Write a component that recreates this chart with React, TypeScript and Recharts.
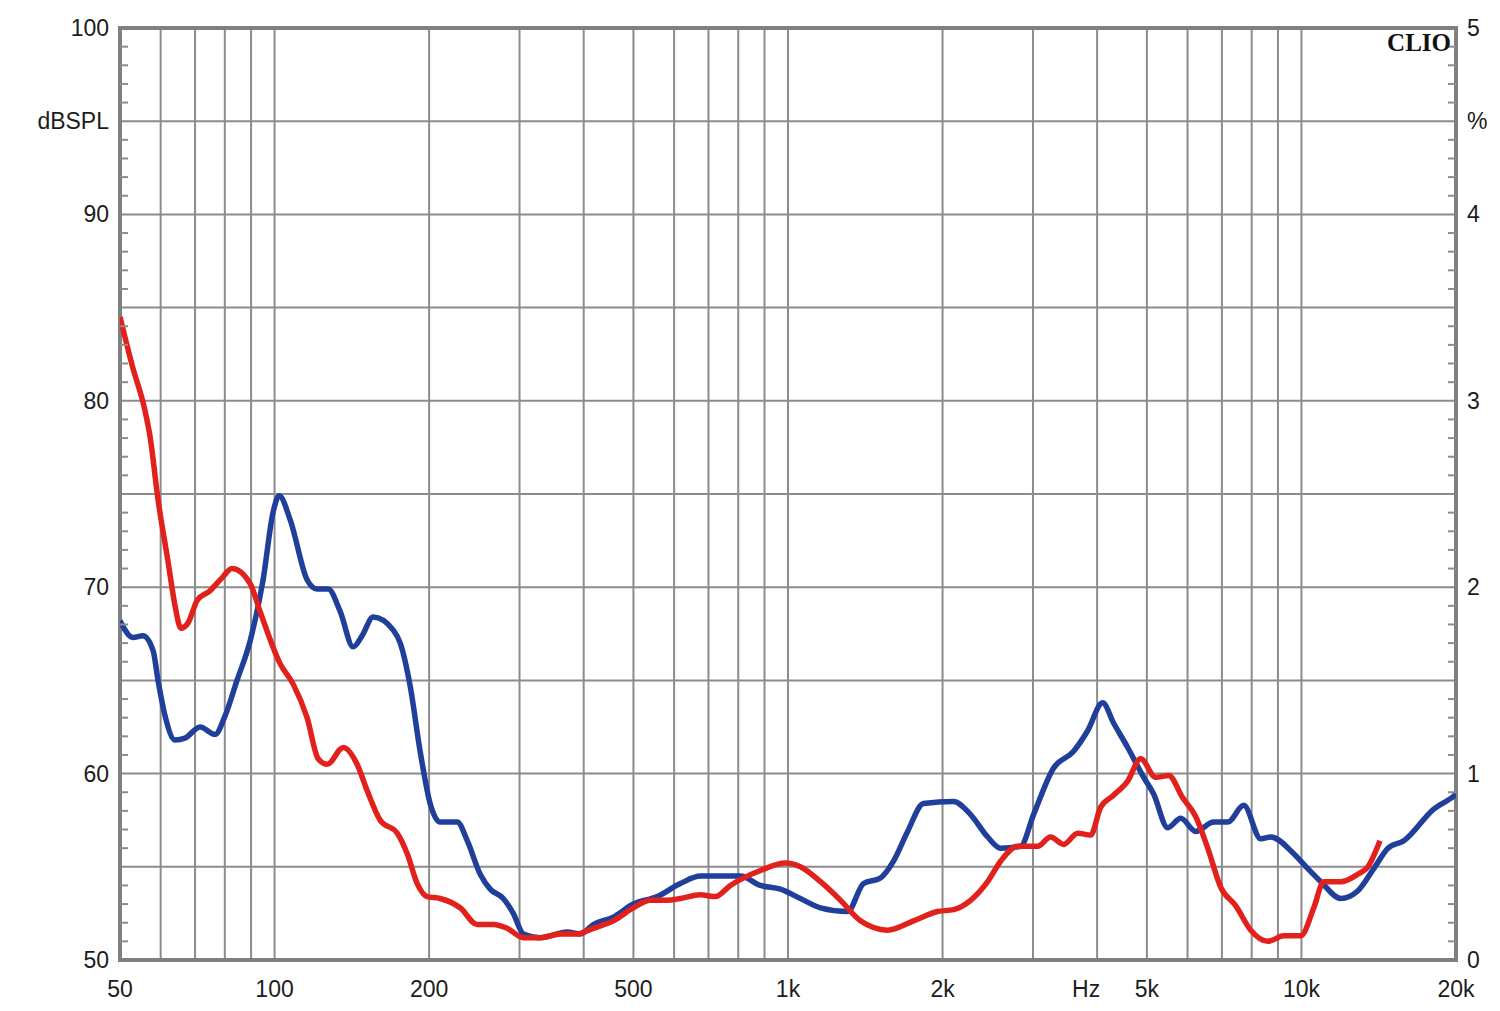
import { CartesianGrid, Line, LineChart, ReferenceArea, XAxis, YAxis } from "recharts";

// blue trace (frequency in Hz, level in dB SPL)
const blueHz = [
  50, 53, 55.4, 58, 59.3, 61.2, 64, 66.9, 71.6, 76.6, 80.1, 84.5, 89.6, 95, 99.3, 102.1, 107.3, 115.7, 121,
  127.2, 134.2, 142.3, 148.1, 155.6, 170.3, 175.7, 183.7, 192.1, 200.9, 210.2, 226.9, 237.3, 251.5, 263, 278.9,
  291.7, 305.1, 329.4, 371.6, 394, 417.6, 456.8, 499.8, 556.6, 617.1, 675, 807.8, 883.7, 966.6, 1057, 1157, 1306,
  1403, 1514, 1605, 1710, 1836, 2101, 2268, 2448, 2595, 2838, 3008, 3291, 3600, 3834, 4100, 4309, 4588, 4929, 5154,
  5490, 5819, 6224, 6747, 7186, 7721, 8333, 8715, 9661, 10290, 10910, 11932, 12870, 13830, 14740, 15830, 18100,
  19810, 20000,
];
const blueDb = [
  68.2, 67.3, 67.4, 66.6, 65.0, 63.1, 61.8, 61.9, 62.5, 62.1, 63.1, 65.0, 67.1, 70.4, 74.0, 74.9, 73.6, 70.4, 69.9,
  69.9, 68.7, 66.8, 67.4, 68.4, 67.7, 67.0, 64.7, 61.2, 58.4, 57.4, 57.4, 56.4, 54.6, 53.8, 53.3,
  52.5, 51.4, 51.2, 51.5, 51.4, 51.9, 52.3, 53.0, 53.4, 54.1, 54.5, 54.5, 54.0, 53.8, 53.3, 52.8, 52.6,
  54.1, 54.4, 55.3, 56.9, 58.4, 58.5, 57.8, 56.6, 56.0, 56.1, 57.8, 60.3, 61.2, 62.3, 63.8, 62.7, 61.4, 59.8, 58.9,
  57.1, 57.6, 56.9, 57.4, 57.4, 58.3, 56.5, 56.6, 55.7, 54.9, 54.2, 53.3, 53.7, 54.9, 56.0, 56.4, 58.1,
  58.8, 58.9,
];

// red trace
const redHz = [
  50, 52.8, 55.9, 57.2, 59.3, 62, 64, 65.7, 67.9, 70.7, 74.8, 79, 82.6, 89.6, 93.7, 102.5, 108.7, 115.7, 121.6,
  126.6, 136.1, 144.8, 151.4, 160.6, 173.4, 181.3, 189.6, 198.3, 210.2, 229.9, 248.2, 266.6, 283.8, 305.1, 329.4,
  360.2, 388.8, 417.6, 456.8, 499.8, 539.3, 582.1, 617.1, 675, 721.9, 772.3, 883.7, 988.5, 1057, 1157, 1266, 1384,
  1562, 1756, 1956, 2101, 2268, 2448, 2595, 2800, 3064, 3246, 3443, 3666, 3885, 4064, 4289, 4588, 4862, 5201, 5513,
  5871, 6224, 6569, 6964, 7450, 7967, 8600, 9239, 9970, 10570, 11050, 11932, 12870, 13470, 14220,
];
const redDb = [
  84.5, 81.9, 79.5, 78.1, 74.7, 71.4, 69.0, 67.8, 68.1, 69.3, 69.8, 70.5, 71.0, 70.2, 68.7, 65.9, 64.8, 63.0, 60.8,
  60.5, 61.4, 60.5, 59.1, 57.5, 56.8, 55.7, 54.1, 53.4, 53.3, 52.8, 51.9, 51.9, 51.7, 51.2, 51.2,
  51.4, 51.4, 51.7, 52.1, 52.8, 53.2, 53.2, 53.3, 53.5, 53.4, 54.0, 54.8, 55.2, 55.0, 54.2, 53.2, 52.1,
  51.6, 52.1, 52.6, 52.7, 53.2, 54.2, 55.3, 56.1, 56.1, 56.6, 56.2, 56.8, 56.7, 58.2, 58.8, 59.6, 60.8, 59.8, 59.9,
  58.7, 57.7, 56.0, 53.9, 52.9, 51.6, 51.0, 51.3, 51.3, 52.8, 54.2, 54.2, 54.6, 55.0, 56.4,
];

// axes
const hzTicks = [50, 100, 200, 500, 1000, 2000, 4000, 5000, 10000, 20000];
const hzGrid = [
  50, 60, 70, 80, 90, 100, 200, 300, 400, 500, 600, 700, 800, 900, 1000,
  2000, 3000, 4000, 5000, 6000, 7000, 8000, 9000, 10000, 20000,
];
const dbGrid = [50, 55, 60, 65, 70, 75, 80, 85, 90, 95, 100];
const dbTicks = Array.from({ length: 51 }, (_, i) => 50 + i);
const pctTicks = Array.from({ length: 51 }, (_, i) => i / 10);

const blueData = blueHz.map((hz, i) => ({ hz, db: blueDb[i] }));
const redData = redHz.map((hz, i) => ({ hz, db: redDb[i] }));

const FONT = "'Liberation Sans', Arial, sans-serif";
const TEXT = "#1c1c1c";
const GRID = "#8c8c8c";
const MARGIN = 11;
const FS = 23;

const hzLabel = (v: number) => (v === 4000 ? "Hz" : v >= 1000 ? `${v / 1000}k` : String(v));

function HzTick({ x, y, payload }: any) {
  const v = payload.value;
  return (
    <text x={v === 4000 ? x - 11 : x} y={y + 37} textAnchor="middle" fill={TEXT} fontSize={FS} fontFamily={FONT}>
      {hzLabel(v)}
    </text>
  );
}

function DbTick({ x, y, payload }: any) {
  const v = payload.value;
  if (v % 10 === 0 || v === 95) {
    return (
      <text x={x} y={y} dy={8} textAnchor="end" fill={TEXT} fontSize={FS} fontFamily={FONT}>
        {v === 95 ? "dBSPL" : v}
      </text>
    );
  }
  if (v % 5 === 0) return <g />;
  const ax = x + MARGIN;
  return <line x1={ax} x2={ax + 8} y1={y} y2={y} stroke={GRID} strokeWidth={2} />;
}

function PctTick({ x, y, payload }: any) {
  const v = Math.round(payload.value * 10);
  if (v % 10 === 0 || v === 45) {
    return (
      <text x={x} y={y} dy={8} textAnchor="start" fill={TEXT} fontSize={FS} fontFamily={FONT}>
        {v === 45 ? "%" : v / 10}
      </text>
    );
  }
  if (v % 5 === 0) return <g />;
  const ax = x - MARGIN;
  return <line x1={ax - 8} x2={ax} y1={y} y2={y} stroke={GRID} strokeWidth={2} />;
}

export default function App() {
  return (
    <div style={{ position: "relative", width: 1500, height: 1011, background: "#fff" }}>
      <style>{"body{margin:0;background:#fff}"}</style>
      <LineChart width={1500} height={1011} margin={{ top: 28, right: 0, bottom: 0, left: 0 }}>
        <CartesianGrid
          yAxisId="db"
          stroke={GRID}
          strokeWidth={2}
          horizontalValues={dbGrid}
          verticalValues={hzGrid}
        />
        <XAxis
          dataKey="hz"
          type="number"
          scale="log"
          domain={[50, 20000]}
          allowDataOverflow
          ticks={hzTicks}
          interval={0}
          tick={<HzTick />}
          tickSize={0}
          tickMargin={0}
          tickLine={false}
          axisLine={false}
          height={51}
        />
        <YAxis
          yAxisId="db"
          type="number"
          domain={[50, 100]}
          allowDataOverflow
          ticks={dbTicks}
          interval={0}
          tick={<DbTick />}
          tickSize={0}
          tickMargin={MARGIN}
          tickLine={false}
          axisLine={false}
          width={120}
        />
        <YAxis
          yAxisId="pct"
          orientation="right"
          type="number"
          domain={[0, 5]}
          allowDataOverflow
          ticks={pctTicks}
          interval={0}
          tick={<PctTick />}
          tickSize={0}
          tickMargin={MARGIN}
          tickLine={false}
          axisLine={false}
          width={44}
        />
        <ReferenceArea
          yAxisId="db"
          x1={50}
          x2={20000}
          y1={50}
          y2={100}
          fill="none"
          fillOpacity={0}
          stroke="#808080"
          strokeWidth={4}
        />
        <Line
          data={blueData}
          dataKey="db"
          yAxisId="db"
          type="monotone"
          stroke="#1f3f9a"
          strokeWidth={5.5}
          dot={false}
          isAnimationActive={false}
        />
        <Line
          data={redData}
          dataKey="db"
          yAxisId="db"
          type="monotone"
          stroke="#e2211c"
          strokeWidth={5.5}
          dot={false}
          isAnimationActive={false}
        />
      </LineChart>
      <div
        style={{
          position: "absolute",
          right: 49,
          top: 31,
          fontFamily: "'Liberation Serif', 'Times New Roman', serif",
          fontWeight: 700,
          fontSize: 25,
          lineHeight: "24px",
          color: "#111",
        }}
      >
        CLIO
      </div>
    </div>
  );
}
